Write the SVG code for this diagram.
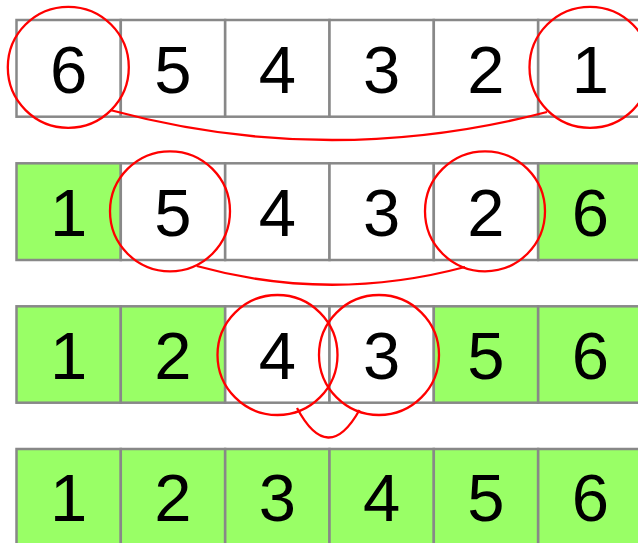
<svg xmlns="http://www.w3.org/2000/svg" width="638" height="543" viewBox="0 0 638 543">
<style>
.c{fill:#ffffff;stroke:#888888;stroke-width:2.5}
.g{fill:#99ff66;stroke:#888888;stroke-width:2.5}
.t{font-family:"Liberation Sans",Arial,sans-serif;font-size:67px;fill:#000000;text-anchor:middle}
.o{fill:none;stroke:#ff0000;stroke-width:2.3}
.l{fill:none;stroke:#ff0000;stroke-width:2.3}
</style>
<rect width="638" height="543" fill="#ffffff"/>
<g id="row1">
<rect class="c" x="16.5" y="20" width="104.3" height="96.7"/>
<rect class="c" x="120.8" y="20" width="104.3" height="96.7"/>
<rect class="c" x="225.2" y="20" width="104.3" height="96.7"/>
<rect class="c" x="329.5" y="20" width="104.3" height="96.7"/>
<rect class="c" x="433.8" y="20" width="104.3" height="96.7"/>
<rect class="c" x="538.2" y="20" width="104.3" height="96.7"/>
<text class="t" x="68.7" y="93">6</text>
<text class="t" x="173" y="93">5</text>
<text class="t" x="277.3" y="93">4</text>
<text class="t" x="381.7" y="93">3</text>
<text class="t" x="486" y="93">2</text>
<text class="t" x="590.3" y="93">1</text>
</g>
<g id="row2">
<rect class="g" x="16.5" y="163.3" width="104.3" height="96.7"/>
<rect class="c" x="120.8" y="163.3" width="104.3" height="96.7"/>
<rect class="c" x="225.2" y="163.3" width="104.3" height="96.7"/>
<rect class="c" x="329.5" y="163.3" width="104.3" height="96.7"/>
<rect class="c" x="433.8" y="163.3" width="104.3" height="96.7"/>
<rect class="g" x="538.2" y="163.3" width="104.3" height="96.7"/>
<text class="t" x="68.7" y="235.5">1</text>
<text class="t" x="173" y="235.5">5</text>
<text class="t" x="277.3" y="235.5">4</text>
<text class="t" x="381.7" y="235.5">3</text>
<text class="t" x="486" y="235.5">2</text>
<text class="t" x="590.3" y="235.5">6</text>
</g>
<g id="row3">
<rect class="g" x="16.5" y="306.3" width="104.3" height="96.4"/>
<rect class="g" x="120.8" y="306.3" width="104.3" height="96.4"/>
<rect class="c" x="225.2" y="306.3" width="104.3" height="96.4"/>
<rect class="c" x="329.5" y="306.3" width="104.3" height="96.4"/>
<rect class="g" x="433.8" y="306.3" width="104.3" height="96.4"/>
<rect class="g" x="538.2" y="306.3" width="104.3" height="96.4"/>
<text class="t" x="68.7" y="378.5">1</text>
<text class="t" x="173" y="378.5">2</text>
<text class="t" x="277.3" y="378.5">4</text>
<text class="t" x="381.7" y="378.5">3</text>
<text class="t" x="486" y="378.5">5</text>
<text class="t" x="590.3" y="378.5">6</text>
</g>
<g id="row4">
<rect class="g" x="16.5" y="449" width="104.3" height="100"/>
<rect class="g" x="120.8" y="449" width="104.3" height="100"/>
<rect class="g" x="225.2" y="449" width="104.3" height="100"/>
<rect class="g" x="329.5" y="449" width="104.3" height="100"/>
<rect class="g" x="433.8" y="449" width="104.3" height="100"/>
<rect class="g" x="538.2" y="449" width="104.3" height="100"/>
<text class="t" x="68.7" y="520.5">1</text>
<text class="t" x="173" y="520.5">2</text>
<text class="t" x="277.3" y="520.5">3</text>
<text class="t" x="381.7" y="520.5">4</text>
<text class="t" x="486" y="520.5">5</text>
<text class="t" x="590.3" y="520.5">6</text>
</g>
<g id="circles">
<circle class="o" cx="68.3" cy="67.3" r="60.5"/>
<circle class="o" cx="590" cy="67.3" r="60.5"/>
<circle class="o" cx="170" cy="211.3" r="60"/>
<circle class="o" cx="485" cy="211.3" r="60"/>
<circle class="o" cx="277.5" cy="355" r="60"/>
<circle class="o" cx="379" cy="355" r="60"/>
</g>
<g id="connectors">
<path class="l" d="M110,110 Q328,169 547,112"/>
<path class="l" d="M196.7,266 Q330,303 465,267"/>
<path class="l" d="M297,408 Q328,466 359.5,410"/>
</g>
</svg>
